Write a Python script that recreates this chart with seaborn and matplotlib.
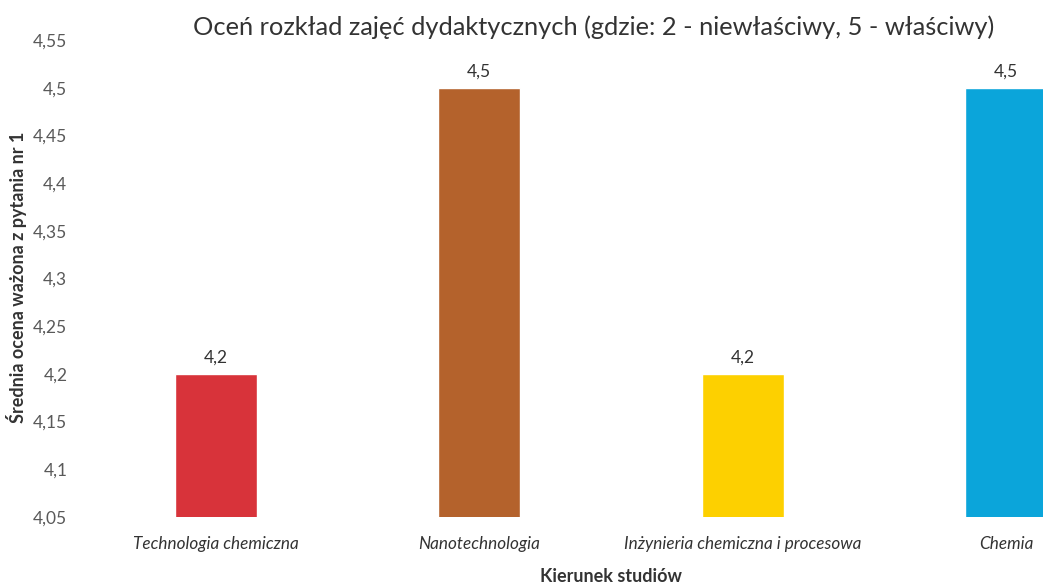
import matplotlib
matplotlib.use("Agg")
import matplotlib.pyplot as plt
from matplotlib.ticker import FuncFormatter
import seaborn as sns

# data
kierunki = ["Technologia chemiczna", "Nanotechnologia",
            "Inżynieria chemiczna i procesowa", "Chemia"]
oceny = [4.2, 4.5, 4.2, 4.5]
kolory = ["#D8333A", "#B4622C", "#FDD000", "#0BA5DA"]
y_ticks = [4.05, 4.1, 4.15, 4.2, 4.25, 4.3, 4.35, 4.4, 4.45, 4.5, 4.55]

sns.set_style("white")
plt.rcParams['font.family'] = ['Lato', 'DejaVu Sans']

fig = plt.figure(figsize=(10.43, 5.84), dpi=100)
ax = fig.add_axes([84 / 1043, 67 / 584, 1054 / 1043, 477 / 584])

sns.barplot(x=kierunki, y=oceny, hue=kierunki, palette=kolory,
            width=0.31, saturation=1, legend=False, ax=ax)

ax.set_ylim(4.05, 4.55)
ax.set_xlim(-0.5, 3.5)
ax.set_yticks(y_ticks)


def przecinek(v, pos=None):
    return f"{v:.2f}".rstrip('0').rstrip('.').replace('.', ',')


ax.yaxis.set_major_formatter(FuncFormatter(przecinek))
ax.tick_params(axis='y', length=0, labelsize=12.5, labelcolor='#595959', pad=12)
ax.tick_params(axis='x', length=0, labelsize=12.3, labelcolor='#333333', pad=14)
for lbl in ax.get_xticklabels():
    lbl.set_style('italic')

for c in ax.containers:
    ax.bar_label(c, labels=[przecinek(v) for v in c.datavalues],
                 padding=6, fontsize=12.5, color='#333333')

sns.despine(ax=ax, left=True, bottom=True, top=True, right=True)
ax.set_xlabel("")
ax.set_ylabel("")

fig.text(594 / 1043, 1 - 27 / 584,
         "Oceń rozkład zajęć dydaktycznych (gdzie: 2 - niewłaściwy, 5 - właściwy)",
         ha='center', va='center', fontsize=18.3, color='#333333')
fig.text(611 / 1043, 1 - 576 / 584, "Kierunek studiów",
         ha='center', va='center', fontsize=13, fontweight='bold', color='#333333')
fig.text(17 / 1043, 1 - 277 / 584, "Średnia ocena ważona z pytania nr 1",
         ha='center', va='center', rotation=90, fontsize=13,
         fontweight='bold', color='#333333')

fig.savefig("out.png", dpi=100)
